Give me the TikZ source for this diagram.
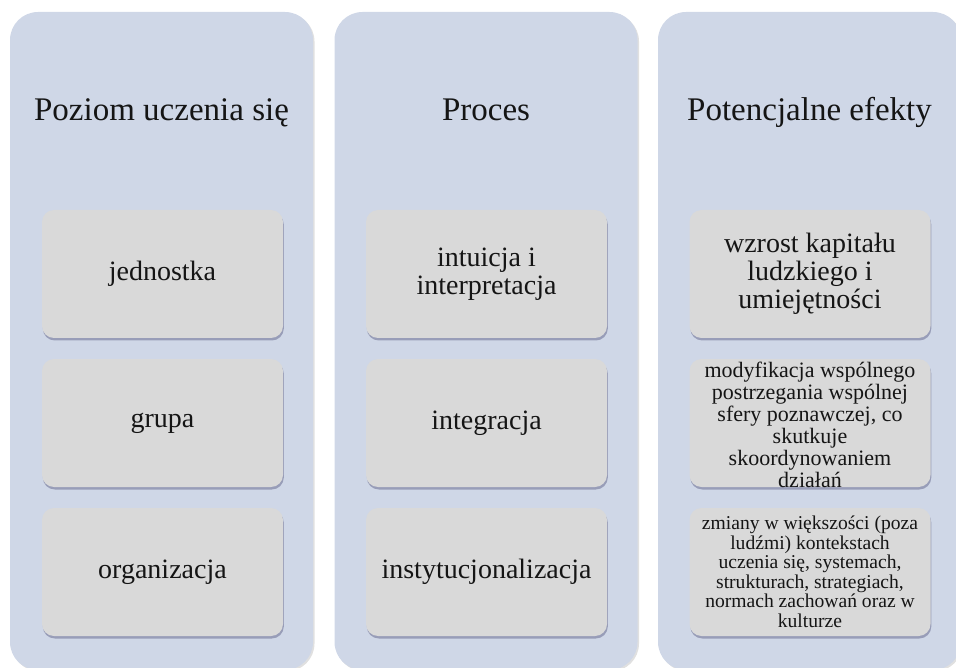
\documentclass[tikz,border=0pt]{standalone}
\usepackage{fontspec}
\setmainfont{Liberation Serif}
\usetikzlibrary{shadows}
\definecolor{colfill}{HTML}{CFD7E7}
\definecolor{boxfill}{HTML}{D9D9D9}
\definecolor{txt}{HTML}{151515}
\begin{document}
\begin{tikzpicture}[x=1pt,y=-1pt,
  column/.style={rectangle, rounded corners=28pt, fill=colfill, draw=none,
    minimum width=303pt, minimum height=658pt, inner sep=0pt,
    drop shadow={shadow xshift=1.5pt, shadow yshift=-1.5pt, opacity=0.12, fill=black}},
  itembox/.style={rectangle, rounded corners=12pt, fill=boxfill, draw=none,
    minimum width=241pt, minimum height=128pt, inner sep=0pt,
    drop shadow={shadow xshift=0.8pt, shadow yshift=-2.5pt, opacity=0.35, fill=black!70!blue!60!gray}},
  header/.style={anchor=base, text=txt, inner sep=0pt, font=\fontsize{33}{40}\selectfont},
  lbl/.style={align=center, text=txt, inner sep=0pt, font=\fontsize{28}{28}\selectfont},
  lblm/.style={align=center, text=txt, inner sep=0pt, font=\fontsize{22}{22}\selectfont},
  lbls/.style={align=center, text=txt, inner sep=0pt, font=\fontsize{19.6}{19.5}\selectfont}
]
\useasboundingbox (0,0) rectangle (956,668);
\clip (0,0) rectangle (956,668);

% columns
\node[column] (c1) at (161.5,341) {};
\node[column] (c2) at (486,341) {};
\node[column] (c3) at (809.5,341) {};

% headers
\node[header] (h1) at (161.5,121) {Poziom uczenia się};
\node[header] (h2) at (486,121) {Proces};
\node[header] (h3) at (809.5,121) {Potencjalne efekty};

% boxes column 1
\node[itembox] (b11) at (162.5,274) {};
\node[itembox] (b12) at (162.5,423) {};
\node[itembox] (b13) at (162.5,572) {};
% boxes column 2
\node[itembox] (b21) at (486.5,274) {};
\node[itembox] (b22) at (486.5,423) {};
\node[itembox] (b23) at (486.5,572) {};
% boxes column 3
\node[itembox] (b31) at (810,274) {};
\node[itembox] (b32) at (810,423) {};
\node[itembox] (b33) at (810,572) {};

% labels
\node[lbl] (t11) at (b11) {jednostka};
\node[lbl] (t12) at (b12) {grupa};
\node[lbl] (t13) at (b13) {organizacja};
\node[lbl] (t21) at (b21) {intuicja i\\interpretacja};
\node[lbl] (t22) at (b22) {integracja};
\node[lbl] (t23) at (b23) {instytucjonalizacja};
\node[lbl] (t31) at (b31) {wzrost kapitału\\ludzkiego i\\umiejętności};
\node[lblm] (t32) at ([yshift=-2pt]b32.center) {modyfikacja wspólnego\\postrzegania wspólnej\\sfery poznawczej, co\\skutkuje\\skoordynowaniem\\działań};
\node[lbls] (t33) at (b33) {zmiany w większości (poza\\ludźmi) kontekstach\\uczenia się, systemach,\\strukturach, strategiach,\\normach zachowań oraz w\\kulturze};
\end{tikzpicture}
\end{document}
